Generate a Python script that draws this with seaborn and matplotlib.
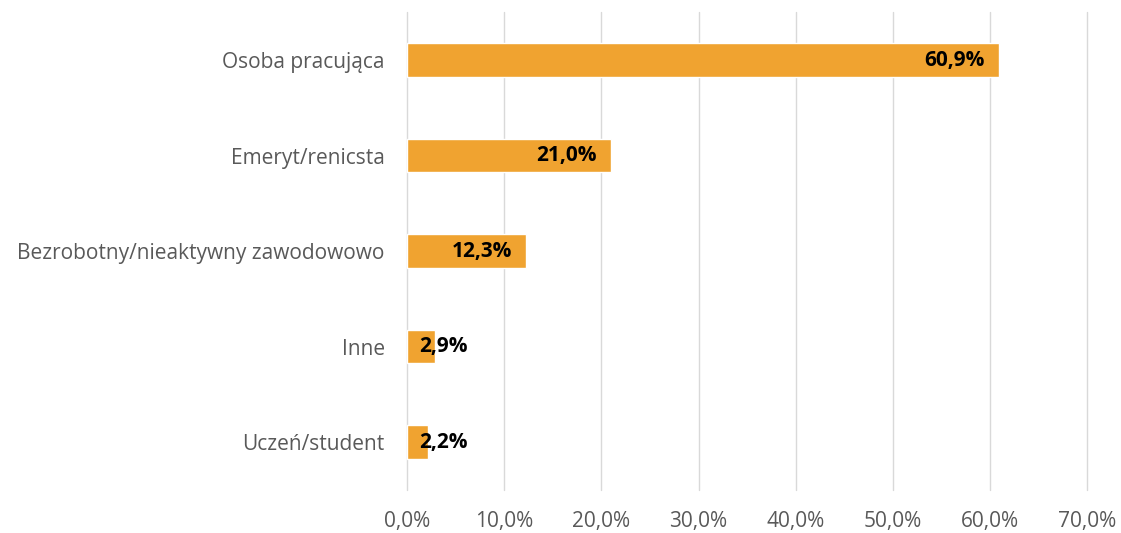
import matplotlib
matplotlib.use("Agg")
import matplotlib.pyplot as plt
import seaborn as sns
import pandas as pd
from matplotlib.ticker import FuncFormatter

categories = ["Osoba pracująca", "Emeryt/renicsta", "Bezrobotny/nieaktywny zawodowowo", "Inne", "Uczeń/student"]
values = [60.9, 21.0, 12.3, 2.9, 2.2]
xticks = [0, 10, 20, 30, 40, 50, 60, 70]

df = pd.DataFrame({"cat": categories, "val": values})

sns.set_theme(style="white")
plt.rcParams['font.family'] = ['Open Sans', 'DejaVu Sans']

fig = plt.figure(figsize=(11.21, 5.33), dpi=100)
ax = fig.add_axes([0.363, 0.081, 0.607, 0.896])

sns.barplot(data=df, x="val", y="cat", orient="h", color="#F0A330", saturation=1,
            width=0.35, ax=ax, zorder=3)

ax.set_xlim(0, 70)
ax.set_ylim(4.5, -0.5)
ax.set_xticks(xticks)
ax.xaxis.set_major_formatter(FuncFormatter(lambda v, p: f"{v:.1f}%".replace(".", ",")))
ax.grid(axis="x", color="#D9D9D9", linewidth=1, zorder=0)
ax.set_axisbelow(True)
for gl in ax.get_xgridlines():
    gl.set_clip_on(False)
for s in ax.spines.values():
    s.set_visible(False)
ax.set_xlabel("")
ax.set_ylabel("")
ax.tick_params(axis="x", length=0, pad=15, labelsize=15, labelcolor="#595959")
ax.tick_params(axis="y", length=0, pad=16, labelsize=15, labelcolor="#595959")

for i, v in enumerate(values):
    txt = f"{v:.1f}%".replace(".", ",")
    if v > 8:
        ax.text(v - 1.5, i, txt, ha="right", va="center", fontsize=15,
                fontweight="bold", color="black", zorder=4)
    else:
        ax.text(1.3, i, txt, ha="left", va="center", fontsize=15,
                fontweight="bold", color="black", zorder=4)

fig.savefig("out.png", dpi=100)
